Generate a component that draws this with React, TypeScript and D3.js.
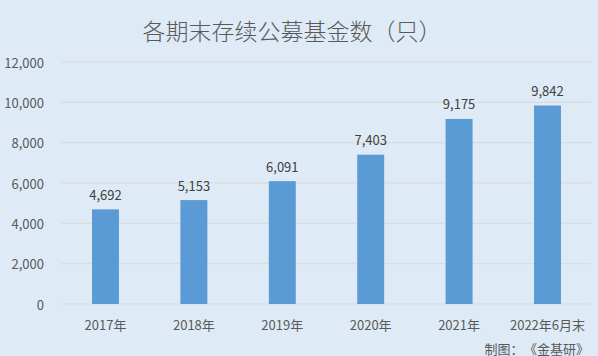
import React from "react";
import * as d3 from "d3";

const categories = ["2017年", "2018年", "2019年", "2020年", "2021年", "2022年6月末"];
const values = [4692, 5153, 6091, 7403, 9175, 9842];
const yTicks = [0, 2000, 4000, 6000, 8000, 10000, 12000];
const title = "各期末存续公募基金数（只）";
const footerA = "制图：";
const footerB = "《金基研》";

const W = 598;
const H = 356;
const FONT = "'Noto Sans CJK SC', 'Noto Sans', sans-serif";
const TEXT = "#595959";

export default function App() {
  const x = d3.scaleBand<string>().domain(categories).range([61.3, 591.7]).paddingInner(0.695).paddingOuter(0.3475);
  const y = d3.scaleLinear().domain([0, 12000]).range([304, 62]);
  const fmt = d3.format(",");
  return (
    <svg width={W} height={H} style={{ position: "absolute", left: 0, top: 0, display: "block" }}>
      <rect x={0} y={0} width={W} height={H} fill="#DEEAF6" />
      <text x={292} y={30} textAnchor="middle" dominantBaseline="central" fontFamily={FONT} fontSize={23} fontWeight={300} fill={TEXT}>
        {title}
      </text>
      {yTicks.map((t) => (
        <g key={t}>
          <line x1={61.3} x2={591.7} y1={y(t)} y2={y(t)} stroke="#D9D9D9" strokeWidth={1} />
          <text x={44} y={y(t)} textAnchor="end" dominantBaseline="central" fontFamily={FONT} fontSize={13} fill={TEXT}>
            {fmt(t)}
          </text>
        </g>
      ))}
      {categories.map((c, i) => (
        <g key={c}>
          <rect x={x(c)} y={y(values[i])} width={x.bandwidth()} height={y(0) - y(values[i])} fill="#5B9BD5" />
          <text x={(x(c) as number) + x.bandwidth() / 2} y={y(values[i]) - 15} textAnchor="middle" dominantBaseline="central" fontFamily={FONT} fontSize={13} fill="#404040">
            {fmt(values[i])}
          </text>
          <text x={(x(c) as number) + x.bandwidth() / 2} y={324.5} textAnchor="middle" dominantBaseline="central" fontFamily={FONT} fontSize={13} fill={TEXT}>
            {c}
          </text>
        </g>
      ))}
      <text x={589} y={348} textAnchor="end" dominantBaseline="central" fontFamily={FONT} fontSize={13} fill={TEXT}>
        <tspan>{footerA}</tspan>
        <tspan dx={7}>{footerB}</tspan>
      </text>
    </svg>
  );
}
